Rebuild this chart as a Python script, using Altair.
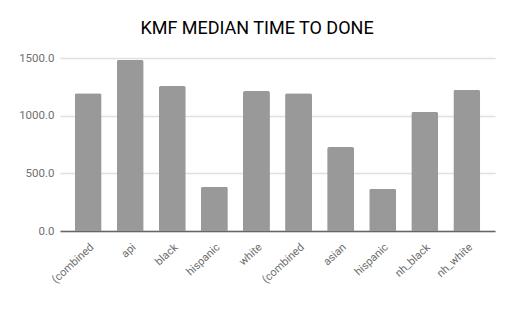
import json
import altair as alt
import pandas as pd

labels = ["(combined", "api", "black", "hispanic", "white",
          "(combined", "asian", "hispanic", "nh_black", "nh_white"]
values = [1195, 1483, 1257, 384, 1214, 1195, 728, 367, 1032, 1223]
y_ticks = [0, 500, 1000, 1500]
title_text = "KMF MEDIAN TIME TO DONE"

df = pd.DataFrame({"i": list(range(len(labels))), "label": labels, "value": values})

label_expr = json.dumps(labels) + "[datum.value]"

bars = alt.Chart(df).mark_bar(
    color="#999999", cornerRadiusTopLeft=2, cornerRadiusTopRight=2
).encode(
    x=alt.X("i:O", title=None,
            scale=alt.Scale(paddingInner=0.36, paddingOuter=0.35),
            axis=alt.Axis(labelExpr=label_expr, labelAngle=-43, labelAlign="right",
                          labelBaseline="top", labelPadding=10, ticks=False,
                          domainColor="#666666", domainWidth=1.5,
                          labelColor="#6f6f6f", labelFontSize=11, labelFont="Roboto")),
    y=alt.Y("value:Q", title=None,
            scale=alt.Scale(domain=[0, 1500], nice=False),
            axis=alt.Axis(values=y_ticks, format=".1f", domain=False, ticks=False,
                          labelPadding=6, gridColor="#e0e0e0", gridWidth=1.5,
                          labelColor="#6f6f6f", labelFontSize=11.5, labelFont="Roboto")),
)

title = alt.Chart(pd.DataFrame({"t": [title_text]})).mark_text(
    font="Roboto", fontSize=18, color="#000000", baseline="middle", align="center"
).encode(text="t:N", x=alt.value(197), y=alt.value(-29))

chart = alt.layer(bars, title).properties(
    width=435, height=173,
    autosize=alt.AutoSizeParams(type="none"),
    padding={"left": 52, "top": 50, "right": 4, "bottom": 80},
    background="white",
).configure_view(stroke=None)

chart.save("out.html", embed_options={"renderer": "svg", "actions": False})
